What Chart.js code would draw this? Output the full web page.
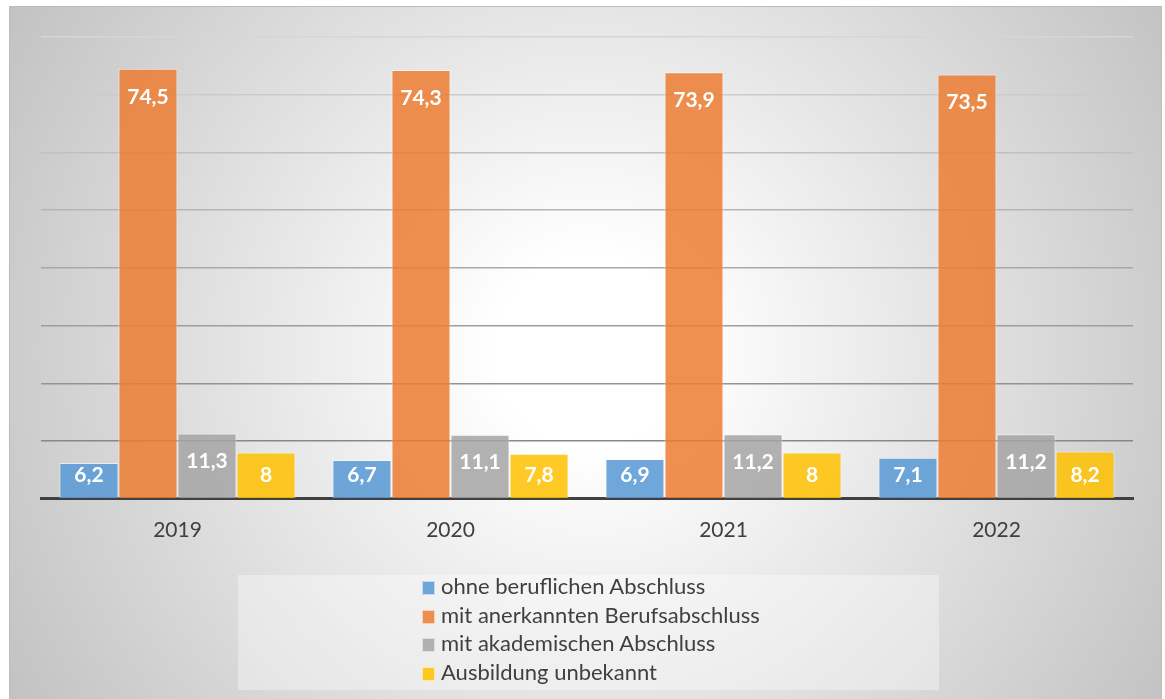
<!DOCTYPE html>
<html>
<head>
<meta charset="utf-8">
<script src="https://cdn.jsdelivr.net/npm/chart.js@4.4.1/dist/chart.umd.min.js"></script>
<style>
  html, body { margin: 0; padding: 0; background: #ffffff; width: 1165px; height: 699px; overflow: hidden; }
  #frame {
    position: absolute; left: 9px; top: 6px; width: 1153px; height: 693px;
    box-sizing: border-box; border: 1px solid #bcbcbc; border-bottom: none;
    background: radial-gradient(circle farthest-corner at 581px 344px, #ffffff 0%, #ffffff 14%, #c2c2c2 100%);
  }
  #chartWrap { position: absolute; left: 0; top: 0; width: 1153px; height: 693px; }
  #legend {
    position: absolute; left: 228px; top: 568px; width: 701px; height: 115px;
    background: rgba(255,255,255,0.35);
    font-family: Lato, "Open Sans", sans-serif; font-size: 22px; color: #404040;
  }
  .li { position: absolute; left: 184px; height: 28px; line-height: 28px; white-space: nowrap; }
  .sw { position: absolute; left: 0; top: 8px; width: 11px; height: 12px; border: 1px solid rgba(255,255,255,0.6); }
  .tx { position: absolute; left: 19px; top: -1px; }
</style>
</head>
<body>
<div id="frame">
  <div id="chartWrap"><canvas id="c" width="1153" height="693"></canvas></div>
  <div id="legend"></div>
</div>
<script>
const categories = ["2019", "2020", "2021", "2022"];
const ohneAbschluss = [6.2, 6.7, 6.9, 7.1];
const berufsabschluss = [74.5, 74.3, 73.9, 73.5];
const akademisch = [11.3, 11.1, 11.2, 11.2];
const unbekannt = [8, 7.8, 8, 8.2];
const seriesNames = ["ohne beruflichen Abschluss", "mit anerkannten Berufsabschluss", "mit akademischen Abschluss", "Ausbildung unbekannt"];
const yTicks = [0, 10, 20, 30, 40, 50, 60, 70, 80];

const colors = ["rgba(91,155,213,0.88)", "rgba(237,125,49,0.85)", "rgba(165,165,165,0.85)", "rgba(255,192,0,0.85)"];
const FONT = 'Lato, "Open Sans", sans-serif';

const labelPlugin = {
  id: 'barLabels',
  afterDatasetsDraw(chart) {
    const ctx = chart.ctx;
    ctx.save();
    ctx.font = 'bold 21px ' + FONT;
    ctx.fillStyle = '#ffffff';
    ctx.textAlign = 'center';
    ctx.textBaseline = 'middle';
    chart.data.datasets.forEach((ds, i) => {
      const meta = chart.getDatasetMeta(i);
      meta.data.forEach((bar, j) => {
        const v = ds.data[j];
        const cy = Math.min(bar.y + 28, bar.base - 23);
        ctx.fillText(String(v).replace('.', ','), bar.x, cy);
      });
    });
    ctx.restore();
  }
};

function gridColor(v) {
  if (v === 0) return 'rgba(0,0,0,0)';
  const t = (v - 10) / 70;
  const c = Math.round(0x88 + t * (0xd6 - 0x88));
  return `rgb(${c},${c},${c})`;
}

const chart = new Chart(document.getElementById('c'), {
  type: 'bar',
  data: {
    labels: categories,
    datasets: [ohneAbschluss, berufsabschluss, akademisch, unbekannt].map((d, i) => ({
      label: seriesNames[i],
      data: d,
      backgroundColor: colors[i],
      borderColor: 'rgba(255,255,255,0.55)',
      borderWidth: 1,
      borderSkipped: 'bottom',
      categoryPercentage: 0.865,
      barPercentage: 1.0
    }))
  },
  options: {
    responsive: false,
    animation: false,
    layout: { padding: { left: 31, right: 30, top: 30, bottom: 138 } },
    plugins: { legend: { display: false }, tooltip: { enabled: false } },
    scales: {
      x: {
        grid: { display: false, drawTicks: false },
        border: { display: true, color: '#404040', width: 3 },
        ticks: { color: '#404040', font: { family: FONT, size: 21 }, padding: 19 }
      },
      y: {
        min: 0, max: 80,
        afterBuildTicks(axis) { axis.ticks = yTicks.map(v => ({ value: v })); },
        afterFit(axis) { axis.width = 0; },
        ticks: { display: false },
        border: { display: false },
        grid: {
          drawTicks: false,
          lineWidth: 1.5,
          color: (ctx) => gridColor(ctx.tick ? ctx.tick.value : 0)
        }
      }
    }
  },
  plugins: [labelPlugin]
});

const legend = document.getElementById('legend');
chart.data.datasets.forEach((ds, i) => {
  const item = document.createElement('div');
  item.className = 'li';
  item.style.top = (-2 + i * 28.5) + 'px';
  const sw = document.createElement('span');
  sw.className = 'sw';
  sw.style.background = ds.backgroundColor;
  const tx = document.createElement('span');
  tx.className = 'tx';
  tx.textContent = ds.label;
  item.appendChild(sw);
  item.appendChild(tx);
  legend.appendChild(item);
});
</script>
</body>
</html>
